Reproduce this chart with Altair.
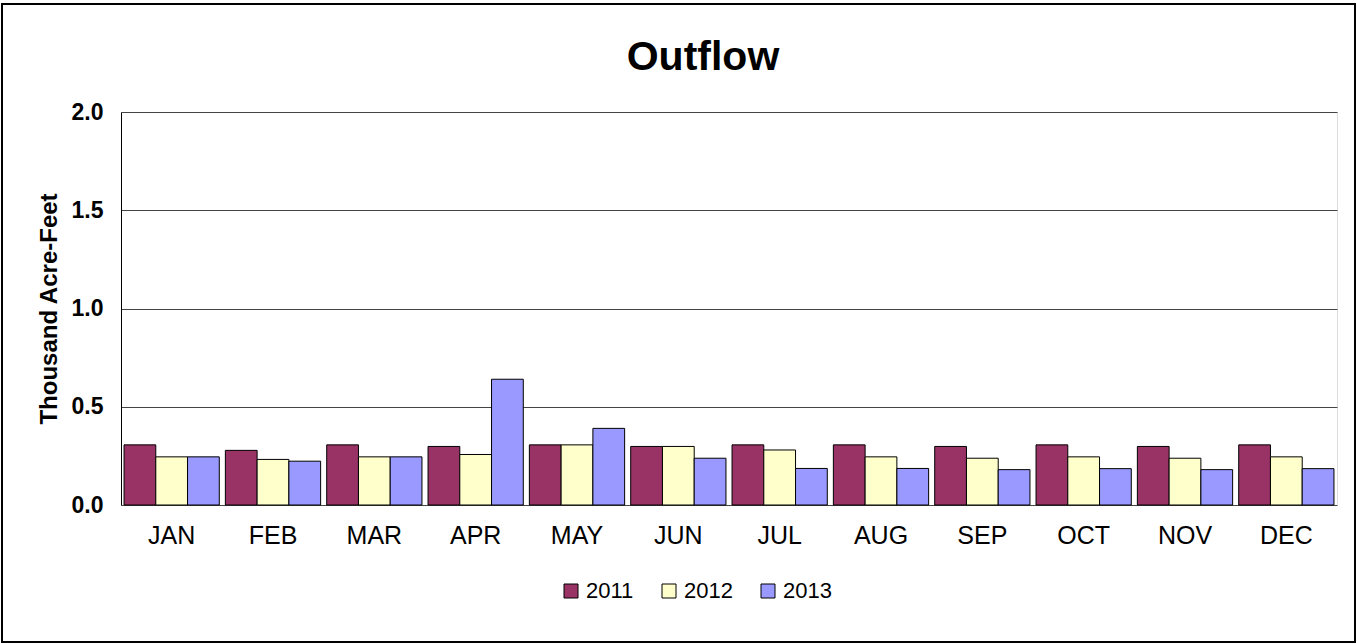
import altair as alt
import pandas as pd

months = ["JAN", "FEB", "MAR", "APR", "MAY", "JUN", "JUL", "AUG", "SEP", "OCT", "NOV", "DEC"]
years = ["2011", "2012", "2013"]
v2011 = [0.306, 0.278, 0.306, 0.298, 0.306, 0.298, 0.306, 0.306, 0.298, 0.306, 0.298, 0.306]
v2012 = [0.245, 0.232, 0.245, 0.257, 0.306, 0.298, 0.280, 0.245, 0.238, 0.245, 0.238, 0.245]
v2013 = [0.245, 0.223, 0.245, 0.640, 0.390, 0.238, 0.186, 0.186, 0.180, 0.185, 0.180, 0.185]
colors = ["#993366", "#FFFFCC", "#9999FF"]
title_text = "Outflow"

rows = []
for yr, vals in zip(years, [v2011, v2012, v2013]):
    for m, v in zip(months, vals):
        rows.append({"Month": m, "Year": yr, "Value": v})
df = pd.DataFrame(rows)

FONT = "Liberation Sans"

bars = alt.Chart(df).mark_bar(stroke="black").encode(
    x=alt.X("Month:N", sort=months,
            scale=alt.Scale(paddingInner=0.06, paddingOuter=0.03),
            axis=alt.Axis(title=None, labelAngle=0, labelFontSize=25, labelFont=FONT,
                          labelColor="black", labelPadding=18, ticks=False, domain=False,
                          grid=False)),
    xOffset=alt.XOffset("Year:N", sort=years),
    y=alt.Y("Value:Q", scale=alt.Scale(domain=[0, 2]),
            axis=alt.Axis(title="Thousand Acre-Feet", values=[0, 0.5, 1.0, 1.5, 2.0],
                          format=".1f", labelFontSize=23, labelFontWeight="bold",
                          labelFont=FONT, labelColor="black", labelPadding=18,
                          ticks=False, domain=True, domainColor="black",
                          grid=True, gridColor="#444444", gridWidth=1,
                          titleFontSize=24, titleFont=FONT, titleFontWeight="bold",
                          titleColor="black", titlePadding=10)),
    color=alt.Color("Year:N", sort=years, scale=alt.Scale(domain=years, range=colors),
                    legend=alt.Legend(title=None, orient="none", direction="horizontal",
                                      legendX=439, legendY=468, symbolType="square",
                                      symbolSize=196, symbolStrokeColor="black",
                                      symbolStrokeWidth=1.5,
                                      labelFontSize=22, labelFont=FONT, labelColor="black",
                                      labelOffset=4, columnPadding=24)),
    strokeWidth=alt.StrokeWidth("Year:N", scale=alt.Scale(domain=years, range=[1, 1, 2.5]),
                                legend=None),
)

border = alt.Chart(df).mark_rect(fill=None, stroke="black", strokeWidth=1.5).encode(
    x=alt.value(-119), x2=alt.value(1234), y=alt.value(-108), y2=alt.value(530)
)

title = alt.Chart(pd.DataFrame({"t": [title_text]})).mark_text(
    font=FONT, fontSize=41, fontWeight="bold", color="black", baseline="alphabetic",
    align="center"
).encode(text="t:N", x=alt.value(582), y=alt.value(-42))

chart = alt.layer(bars, border, title).properties(
    width=1216, height=393,
    autosize=alt.AutoSizeParams(type="none"),
    padding={"left": 121, "top": 112, "right": 20, "bottom": 139},
).configure_view(stroke="black", strokeWidth=1).configure(background="white")

chart.save("out.html", embed_options={"renderer": "svg", "actions": False})
